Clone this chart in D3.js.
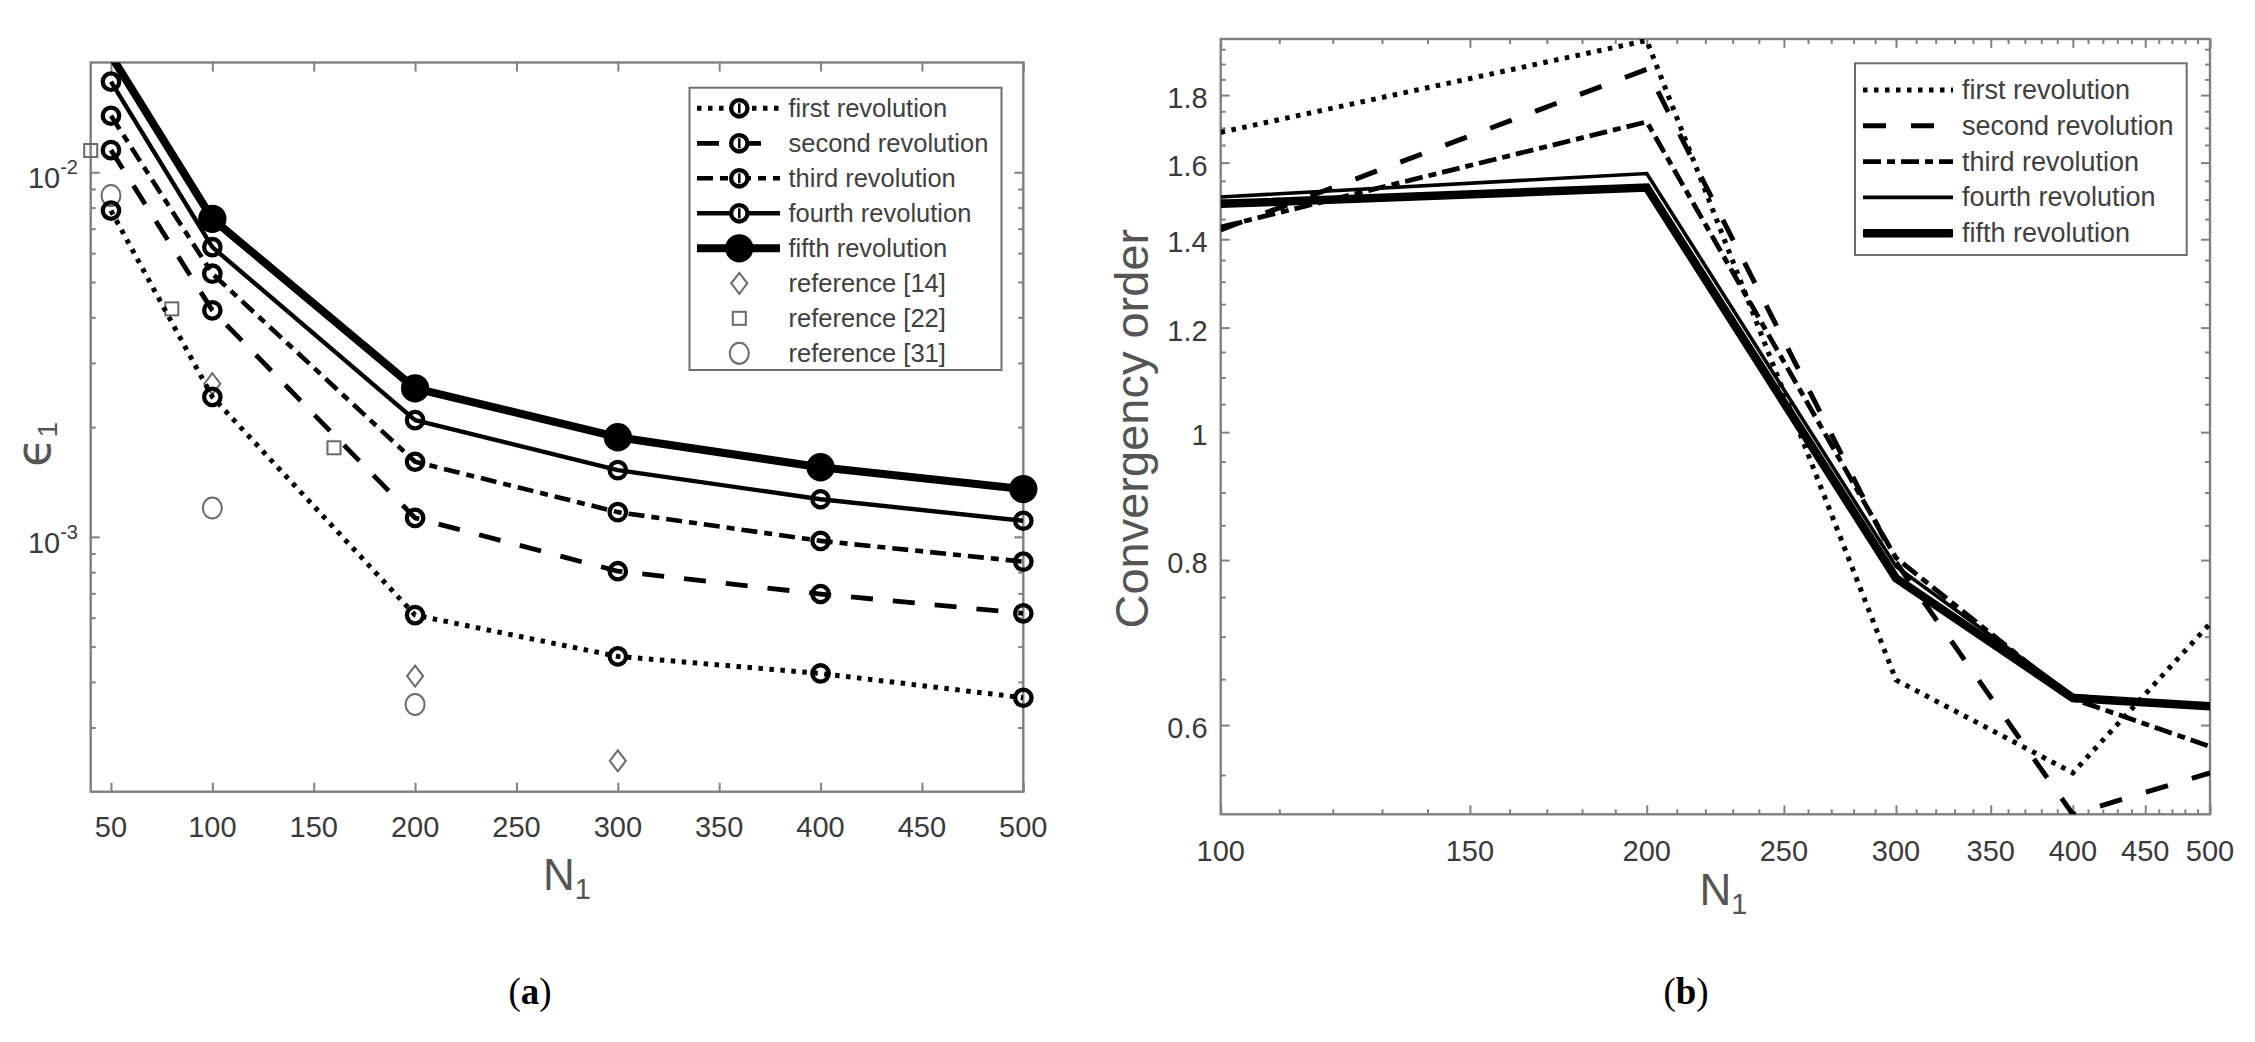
<!DOCTYPE html>
<html><head><meta charset="utf-8">
<script src="https://cdn.jsdelivr.net/npm/d3@7"></script>
<style>html,body{margin:0;padding:0;background:#fff}svg{display:block}</style>
</head><body>
<svg id="c" width="2255" height="1042"></svg>
<script>
// ---------------- DATA ----------------
// Panel (a): error epsilon_1 vs N1 (log y)
const nA = [50, 100, 200, 300, 400, 500];
const firstRevA  = [7.85e-3, 2.42e-3, 6.10e-4, 4.70e-4, 4.22e-4, 3.62e-4];
const secondRevA = [1.150e-2, 4.18e-3, 1.127e-3, 8.05e-4, 6.97e-4, 6.17e-4];
const thirdRevA  = [1.429e-2, 5.27e-3, 1.607e-3, 1.169e-3, 9.75e-4, 8.55e-4];
const fourthRevA = [1.772e-2, 6.23e-3, 2.09e-3, 1.524e-3, 1.268e-3, 1.107e-3];
const fifthRevA  = [2.09e-2, 7.45e-3, 2.555e-3, 1.876e-3, 1.552e-3, 1.352e-3];
const ref14N = [100, 200, 300];
const ref14V = [2.63e-3, 4.15e-4, 2.43e-4];
const ref22N = [40, 80, 160];
const ref22V = [1.147e-2, 4.22e-3, 1.755e-3];
const ref31N = [50, 100, 200];
const ref31V = [8.63e-3, 1.20e-3, 3.47e-4];
const xTicksA = [50, 100, 150, 200, 250, 300, 350, 400, 450, 500];
const yMajorA = [1e-3, 1e-2];
const yMajorLabelsA = ["-3", "-2"];
const yMinorA = [3e-4, 4e-4, 5e-4, 6e-4, 7e-4, 8e-4, 9e-4, 2e-3, 3e-3, 4e-3, 5e-3, 6e-3, 7e-3, 8e-3, 9e-3];
const legendA = ["first revolution", "second revolution", "third revolution", "fourth revolution", "fifth revolution",
                 "reference [14]", "reference [22]", "reference [31]"];

// Panel (b): convergency order vs N1 (log-log)
const nB = [100, 200, 300, 400, 500];
const firstRevB  = [1.687, 1.98, 0.649, 0.552, 0.716];
const secondRevB = [1.423, 1.883, 0.797, 0.5135, 0.552];
const thirdRevB  = [1.430, 1.718, 0.803, 0.628, 0.578];
const fourthRevB = [1.507, 1.570, 0.791, 0.632, 0.618];
const fifthRevB  = [1.489, 1.532, 0.775, 0.629, 0.620];
const xTicksB = [100, 150, 200, 250, 300, 350, 400, 450, 500];
const xMinorB = d3.range(110, 500, 10).filter(v => v % 50 !== 0);
const yTicksB = [0.6, 0.8, 1, 1.2, 1.4, 1.6, 1.8];
const yTickLabelsB = ["0.6", "0.8", "1", "1.2", "1.4", "1.6", "1.8"];
const yMinorB = d3.range(11, 40, 1).map(v => v * 0.05).filter(v => Math.round(v * 100) % 20 !== 0);
const legendB = ["first revolution", "second revolution", "third revolution", "fourth revolution", "fifth revolution"];

// ---------------- SETUP ----------------
const svg = d3.select("#c");
const FONT = "'Liberation Sans', Arial, Helvetica, sans-serif";
const AX = "#808080", TXT = "#3a3a3a";

const PA = {l: 90.7, r: 1023.3, t: 62.5, b: 791.7};
const PB = {l: 1220.7, r: 2210, t: 39, b: 814.3};

const xA = d3.scaleLinear().domain([40, 500]).range([PA.l, PA.r]);
const yA = d3.scaleLog().domain([2e-4, 2e-2]).range([PA.b, PA.t]);
const xB = d3.scaleLog().domain([100, 500]).range([PB.l, PB.r]);
const yB = d3.scaleLog().domain([0.5135, 1.985]).range([PB.b, PB.t]);

function box(P, x, y, xMaj, xMin, yMaj, yMin, majLen, minLen) {
  const g = svg.append("g");
  const mk = (axisFn, scale, vals, len, tr) => {
    const a = g.append("g").attr("transform", tr)
      .call(axisFn(scale).tickValues(vals).tickSize(-len).tickSizeOuter(0).tickFormat(""));
    a.select(".domain").remove();
    a.selectAll("line").attr("stroke", AX).attr("stroke-width", 2);
  };
  mk(d3.axisBottom, x, xMaj, majLen, `translate(0,${P.b})`);
  mk(d3.axisTop, x, xMaj, majLen, `translate(0,${P.t})`);
  mk(d3.axisLeft, y, yMaj, majLen, `translate(${P.l},0)`);
  mk(d3.axisRight, y, yMaj, majLen, `translate(${P.r},0)`);
  if (xMin.length) {
    mk(d3.axisBottom, x, xMin, minLen, `translate(0,${P.b})`);
    mk(d3.axisTop, x, xMin, minLen, `translate(0,${P.t})`);
  }
  mk(d3.axisLeft, y, yMin, minLen, `translate(${P.l},0)`);
  mk(d3.axisRight, y, yMin, minLen, `translate(${P.r},0)`);
  g.append("rect").attr("x", P.l).attr("y", P.t).attr("width", P.r - P.l).attr("height", P.b - P.t)
    .attr("fill", "none").attr("stroke", AX).attr("stroke-width", 2.4);
}

function clip(id, P) {
  svg.append("clipPath").attr("id", id).append("rect")
    .attr("x", P.l).attr("y", P.t).attr("width", P.r - P.l).attr("height", P.b - P.t);
}

// ---------------- PANEL (a) ----------------
box(PA, xA, yA, xTicksA, [], yMajorA, yMinorA, 9, 5);
clip("clipA", PA);

svg.append("g").selectAll("text").data(xTicksA).join("text")
  .attr("x", d => xA(d)).attr("y", PA.b + 45).attr("text-anchor", "middle")
  .attr("font-family", FONT).attr("font-size", 29).attr("fill", TXT).text(d => d);
yMajorA.forEach((v, i) => {
  const t = svg.append("text").attr("x", 78).attr("y", yA(v) + 16).attr("text-anchor", "end")
    .attr("font-family", FONT).attr("font-size", 29).attr("fill", TXT);
  t.append("tspan").text("10");
  t.append("tspan").attr("dy", -14).attr("font-size", 20).text(yMajorLabelsA[i]);
});

const stylesA = [
  {w: 5.0, dash: "4.5 6.5"},
  {w: 4.8, dash: "22 20"},
  {w: 4.6, dash: "16 7 8 7"},
  {w: 4.4, dash: null},
  {w: 8.0, dash: null}
];
const seriesA = [firstRevA, secondRevA, thirdRevA, fourthRevA, fifthRevA];
const lineA = d3.line().x(d => xA(d[0])).y(d => yA(d[1]));

const REF = "#6a6a6a";
function diamond(g, cx, cy) {
  g.append("path").attr("d", `M${cx},${cy - 10.5}L${cx + 8},${cy}L${cx},${cy + 10.5}L${cx - 8},${cy}Z`)
    .attr("fill", "none").attr("stroke", REF).attr("stroke-width", 2);
}
function square(g, cx, cy) {
  g.append("rect").attr("x", cx - 6.5).attr("y", cy - 6.5).attr("width", 13).attr("height", 13)
    .attr("fill", "none").attr("stroke", REF).attr("stroke-width", 2);
}
function refCircle(g, cx, cy) {
  g.append("ellipse").attr("cx", cx).attr("cy", cy).attr("rx", 9.5).attr("ry", 10.5)
    .attr("fill", "none").attr("stroke", REF).attr("stroke-width", 2);
}
const gRef = svg.append("g");
ref14N.forEach((n, i) => diamond(gRef, xA(n), yA(ref14V[i])));
ref22N.forEach((n, i) => square(gRef, xA(n), yA(ref22V[i])));
ref31N.forEach((n, i) => refCircle(gRef, xA(n), yA(ref31V[i])));

seriesA.forEach((s, i) => {
  const pts = nA.map((n, j) => [n, s[j]]);
  const p = svg.append("path").attr("d", lineA(pts)).attr("clip-path", "url(#clipA)")
    .attr("fill", "none").attr("stroke", "#000").attr("stroke-width", stylesA[i].w)
    .attr("stroke-linejoin", "round");
  if (stylesA[i].dash) p.attr("stroke-dasharray", stylesA[i].dash);
  const vis = pts.filter(d => d[1] <= 2e-2 && d[1] >= 2e-4);
  svg.append("g").selectAll("circle").data(vis).join("circle")
    .attr("cx", d => xA(d[0])).attr("cy", d => yA(d[1]))
    .attr("r", i === 4 ? 12 : 8.2)
    .attr("fill", i === 4 ? "#000" : "none")
    .attr("stroke", "#000").attr("stroke-width", 4.3);
});

// legend (a)
const LGA = {x: 689.5, y: 87.7, w: 312, h: 282.3, row0: 108.3, dy: 35.0};
svg.append("rect").attr("x", LGA.x).attr("y", LGA.y).attr("width", LGA.w).attr("height", LGA.h)
  .attr("fill", "#fff").attr("stroke", "#6e6e6e").attr("stroke-width", 2);
legendA.forEach((lab, i) => {
  const yy = LGA.row0 + i * LGA.dy;
  if (i < 5) {
    const p = svg.append("line").attr("x1", 697).attr("x2", 780).attr("y1", yy).attr("y2", yy)
      .attr("stroke", "#000").attr("stroke-width", stylesA[i].w);
    if (stylesA[i].dash) p.attr("stroke-dasharray", stylesA[i].dash);
    svg.append("circle").attr("cx", 739.3).attr("cy", yy).attr("r", i === 4 ? 12 : 8.2)
      .attr("fill", i === 4 ? "#000" : "#fff").attr("stroke", "#000").attr("stroke-width", 4.3);
    if (i < 4) svg.append("line").attr("x1", 739.3).attr("x2", 739.3)
      .attr("y1", yy - 5).attr("y2", yy + 5).attr("stroke", "#000").attr("stroke-width", 2.5);
  } else if (i === 5) diamond(svg, 739.3, yy);
  else if (i === 6) square(svg, 739.3, yy);
  else refCircle(svg, 739.3, yy);
  svg.append("text").attr("x", 788.5).attr("y", yy).attr("dominant-baseline", "central")
    .attr("font-family", FONT).attr("font-size", 25.5).attr("fill", "#404040").text(lab);
});

// axis labels (a)
const eps = svg.append("text").attr("transform", "translate(50,467) rotate(-90)")
  .attr("font-family", "'DejaVu Sans', sans-serif").attr("font-size", 48).attr("fill", "#555");
eps.append("tspan").text("ϵ");
eps.append("tspan").attr("dy", 7).attr("font-size", 28).attr("font-family", FONT).text("1");

const nLabA = svg.append("text").attr("x", (PA.l + PA.r) / 2 + 10).attr("y", 890).attr("text-anchor", "middle")
  .attr("font-family", FONT).attr("font-size", 44).attr("fill", "#555");
nLabA.append("tspan").text("N");
nLabA.append("tspan").attr("dy", 9).attr("font-size", 29).text("1");

// ---------------- PANEL (b) ----------------
box(PB, xB, yB, xTicksB, xMinorB, yTicksB, yMinorB, 9, 5);
clip("clipB", PB);

svg.append("g").selectAll("text").data(xTicksB).join("text")
  .attr("x", d => xB(d)).attr("y", PB.b + 46.5).attr("text-anchor", "middle")
  .attr("font-family", FONT).attr("font-size", 29).attr("fill", TXT).text(d => d);
svg.append("g").selectAll("text").data(yTicksB).join("text")
  .attr("x", PB.l - 13).attr("y", d => yB(d) + 13).attr("text-anchor", "end")
  .attr("font-family", FONT).attr("font-size", 29).attr("fill", TXT)
  .text((d, i) => yTickLabelsB[i]);

const stylesB = [
  {w: 5.0, dash: "4.5 6.5"},
  {w: 5.0, dash: "23 25"},
  {w: 4.8, dash: "18 6 8 6"},
  {w: 3.6, dash: null},
  {w: 8.5, dash: null}
];
const seriesB = [firstRevB, secondRevB, thirdRevB, fourthRevB, fifthRevB];
const lineB = d3.line().x(d => xB(d[0])).y(d => yB(d[1]));
[4, 3, 2, 1, 0].forEach(i => {
  const pts = nB.map((n, j) => [n, seriesB[i][j]]);
  const p = svg.append("path").attr("d", lineB(pts)).attr("clip-path", "url(#clipB)")
    .attr("fill", "none").attr("stroke", "#000").attr("stroke-width", stylesB[i].w)
    .attr("stroke-linejoin", "miter");
  if (stylesB[i].dash) p.attr("stroke-dasharray", stylesB[i].dash);
});

// legend (b)
const LGB = {x: 1855, y: 63.3, w: 331.7, h: 191.7, row0: 90, dy: 35.8};
svg.append("rect").attr("x", LGB.x).attr("y", LGB.y).attr("width", LGB.w).attr("height", LGB.h)
  .attr("fill", "#fff").attr("stroke", "#6e6e6e").attr("stroke-width", 2);
legendB.forEach((lab, i) => {
  const yy = LGB.row0 + i * LGB.dy;
  const p = svg.append("line").attr("x1", 1863).attr("x2", 1953).attr("y1", yy).attr("y2", yy)
    .attr("stroke", "#000").attr("stroke-width", stylesB[i].w);
  if (stylesB[i].dash) p.attr("stroke-dasharray", stylesB[i].dash);
  svg.append("text").attr("x", 1962).attr("y", yy).attr("dominant-baseline", "central")
    .attr("font-family", FONT).attr("font-size", 27).attr("fill", "#404040").text(lab);
});

// axis labels (b)
svg.append("text").attr("transform", `translate(1148,${(PB.t + PB.b) / 2 + 2}) rotate(-90)`)
  .attr("text-anchor", "middle").attr("font-family", FONT).attr("font-size", 47).attr("fill", "#555")
  .text("Convergency order");
const nLabB = svg.append("text").attr("x", (PB.l + PB.r) / 2 + 8).attr("y", 905).attr("text-anchor", "middle")
  .attr("font-family", FONT).attr("font-size", 44).attr("fill", "#555");
nLabB.append("tspan").text("N");
nLabB.append("tspan").attr("dy", 9).attr("font-size", 29).text("1");

// captions
[["a", 530], ["b", 1686]].forEach(([c, x]) => {
  const t = svg.append("text").attr("x", x).attr("y", 1004).attr("text-anchor", "middle")
    .attr("font-family", "'Liberation Serif', 'Times New Roman', serif").attr("font-size", 37).attr("fill", "#000");
  t.append("tspan").text("(");
  t.append("tspan").attr("font-weight", "bold").text(c);
  t.append("tspan").text(")");
});
</script>
</body></html>
